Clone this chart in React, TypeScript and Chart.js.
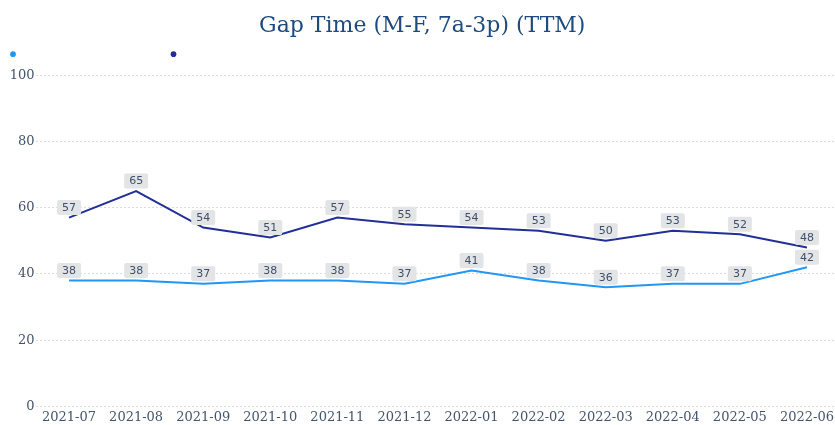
import React, { useEffect, useRef } from "react";
import { Chart, registerables } from "chart.js";

Chart.register(...registerables);

const categories = ["2021-07", "2021-08", "2021-09", "2021-10", "2021-11", "2021-12", "2022-01", "2022-02", "2022-03", "2022-04", "2022-05", "2022-06"];
const lightSeries = [38, 38, 37, 38, 38, 37, 41, 38, 36, 37, 37, 42];
const darkSeries = [57, 65, 54, 51, 57, 55, 54, 53, 50, 53, 52, 48];
const yTicks = [0, 20, 40, 60, 80, 100];
const titleText = "Gap Time (M-F, 7a-3p) (TTM)";

const LIGHT = "#2196f3";
const DARK = "#222f96";
const TICK = "#44546a";
const FONT = "'DejaVu Serif', serif";

const dataLabelPlugin = {
  id: "boxLabels",
  afterDatasetsDraw(chart: any) {
    const ctx = chart.ctx;
    ctx.save();
    ctx.font = "11px 'DejaVu Sans', sans-serif";
    ctx.textAlign = "center";
    ctx.textBaseline = "middle";
    chart.data.datasets.forEach((ds: any, di: number) => {
      const meta = chart.getDatasetMeta(di);
      meta.data.forEach((pt: any, i: number) => {
        const txt = String(ds.data[i]);
        const w = ctx.measureText(txt).width + 10;
        const h = 15;
        const cx = pt.x;
        const cy = pt.y - 10;
        ctx.fillStyle = "#e3e4e6";
        ctx.beginPath();
        if (ctx.roundRect) ctx.roundRect(cx - w / 2, cy - h / 2, w, h, 2);
        else ctx.rect(cx - w / 2, cy - h / 2, w, h);
        ctx.fill();
        ctx.fillStyle = "#3d4f6b";
        ctx.fillText(txt, cx, cy + 0.5);
      });
    });
    ctx.restore();
  },
};

export default function App() {
  const ref = useRef<HTMLCanvasElement | null>(null);
  useEffect(() => {
    document.body.style.margin = "0";
    document.body.style.overflow = "hidden";
    if (!ref.current) return;
    const chart = new Chart(ref.current, {
      type: "line",
      data: {
        labels: categories,
        datasets: [
          {
            label: "",
            data: lightSeries,
            borderColor: LIGHT,
            backgroundColor: LIGHT,
            borderWidth: 2,
            pointRadius: 0,
            tension: 0,
          },
          {
            label: "",
            data: darkSeries,
            borderColor: DARK,
            backgroundColor: DARK,
            borderWidth: 2,
            pointRadius: 0,
            tension: 0,
          },
        ],
      },
      options: {
        animation: false,
        responsive: true,
        maintainAspectRatio: false,
        layout: { padding: { left: 4, right: 7.5, top: 0, bottom: 0 } },
        plugins: {
          title: {
            display: true,
            text: titleText,
            color: "#1f4a7c",
            font: { family: FONT, size: 22, weight: "normal", lineHeight: 1 },
            padding: { top: 15.2, bottom: 0 },
          },
          legend: {
            display: true,
            align: "start",
            labels: {
              usePointStyle: true,
              pointStyle: "circle",
              boxWidth: 6,
              boxHeight: 4,
              padding: 6,
              font: { family: FONT, size: 22 },
              color: "rgba(0,0,0,0)",
              generateLabels(chart: any) {
                const items = Chart.defaults.plugins.legend.labels.generateLabels(chart);
                return items.map((it: any) => ({ ...it, text: "\u2003".repeat(6) + "\u2005", lineWidth: 0 }));
              },
            },
          },
          tooltip: { enabled: false },
        },
        scales: {
          x: {
            offset: true,
            grid: { display: false, drawTicks: false },
            border: { display: false },
            afterFit(scale: any) {
              scale.height = scale.height - 3;
            },
            ticks: {
              color: TICK,
              font: { family: FONT, size: 13 },
              padding: 3,
              maxRotation: 0,
              autoSkip: false,
            },
          },
          y: {
            min: 0,
            max: 100,
            afterFit(scale: any) {
              scale.width = 31.5;
            },
            afterBuildTicks(scale: any) {
              scale.ticks = yTicks.map((v) => ({ value: v }));
            },
            grid: { color: "#dcdcdc", drawTicks: false, lineWidth: 1 },
            border: { display: false, dash: [2, 2] },
            ticks: {
              color: TICK,
              font: { family: FONT, size: 13 },
              padding: 1,
            },
          },
        },
      },
      plugins: [dataLabelPlugin],
    });
    return () => chart.destroy();
  }, []);
  return (
    <div style={{ width: 835, height: 425, overflow: "hidden" }}>
      <div style={{ width: 848, height: 425, position: "relative" }}>
        <canvas ref={ref} />
      </div>
    </div>
  );
}
